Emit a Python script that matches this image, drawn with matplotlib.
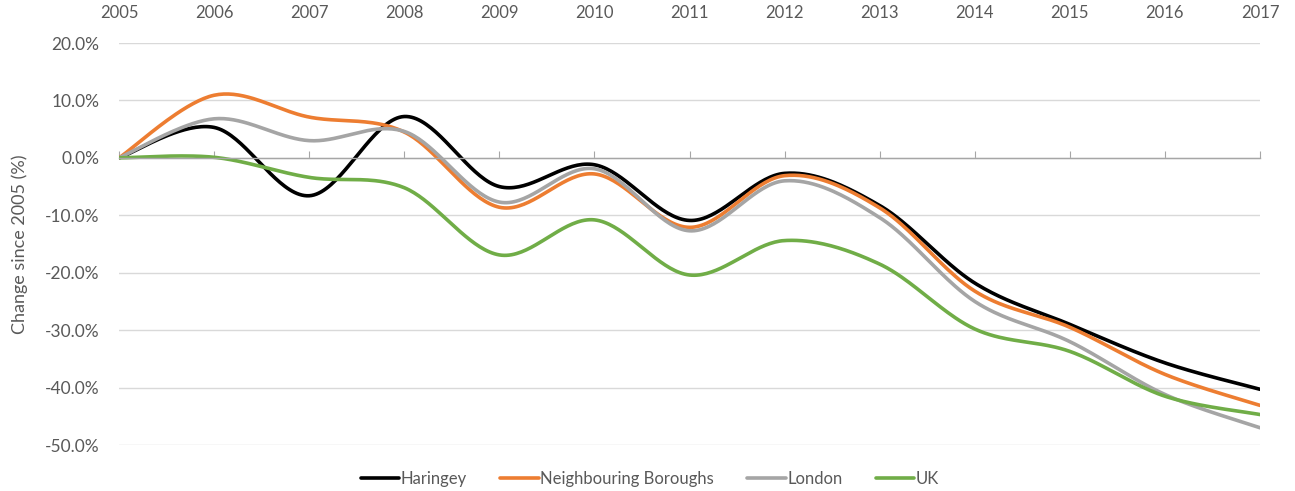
import matplotlib
matplotlib.use("Agg")
import matplotlib.pyplot as plt
from matplotlib.ticker import FuncFormatter
import numpy as np

years = [2005, 2006, 2007, 2008, 2009, 2010, 2011, 2012, 2013, 2014, 2015, 2016, 2017]

# change since 2005, in %
haringey = [0.0, 5.3, -6.6, 7.2, -5.0, -1.2, -10.9, -2.7, -8.3, -21.8, -29.0, -35.7, -40.3]
neighbouring = [0.0, 10.9, 7.1, 4.5, -8.6, -2.8, -12.1, -3.1, -8.7, -23.2, -29.5, -37.7, -43.1]
london = [0.0, 6.8, 3.0, 4.6, -7.7, -1.9, -12.7, -4.0, -10.4, -25.0, -32.0, -41.2, -47.0]
uk = [0.0, 0.1, -3.4, -5.2, -16.9, -10.8, -20.4, -14.4, -18.5, -29.8, -33.7, -41.5, -44.7]

series_names = ["Haringey", "Neighbouring Boroughs", "London", "UK"]
series_colors = ["#000000", "#ED7D31", "#A5A5A5", "#70AD47"]

plt.rcParams["font.family"] = ["Lato", "DejaVu Sans"]
text_col = "#595959"


def smooth(xs, ys, n=40):
    # Excel-style smoothed line: cubic bezier through points (Catmull-Rom tangents)
    xs = np.asarray(xs, dtype=float)
    ys = np.asarray(ys, dtype=float)
    px = np.concatenate([[xs[0]], xs, [xs[-1]]])
    py = np.concatenate([[ys[0]], ys, [ys[-1]]])
    out_x, out_y = [], []
    t = np.linspace(0, 1, n)
    for i in range(1, len(px) - 2):
        p0 = np.array([px[i], py[i]])
        p3 = np.array([px[i + 1], py[i + 1]])
        c1 = p0 + (np.array([px[i + 1], py[i + 1]]) - np.array([px[i - 1], py[i - 1]])) / 6
        c2 = p3 - (np.array([px[i + 2], py[i + 2]]) - np.array([px[i], py[i]])) / 6
        b = ((1 - t) ** 3)[:, None] * p0 + (3 * (1 - t) ** 2 * t)[:, None] * c1 \
            + (3 * (1 - t) * t ** 2)[:, None] * c2 + (t ** 3)[:, None] * p3
        out_x.extend(b[:, 0])
        out_y.extend(b[:, 1])
    return out_x, out_y


fig = plt.figure(figsize=(12.95, 4.91), dpi=100)
ax = fig.add_axes([119 / 1295, 1 - 445 / 491, (1260 - 119) / 1295, (445 - 43) / 491])

for name, vals, col in zip(series_names, [haringey, neighbouring, london, uk], series_colors):
    sx, sy = smooth(years, vals)
    ax.plot(sx, sy, color=col, lw=2.6, label=name, solid_capstyle="round")

ax.set_xlim(years[0], years[-1])
ax.set_ylim(-50, 20)
ax.set_yticks(np.arange(-50, 21, 10))
ax.yaxis.set_major_formatter(FuncFormatter(lambda v, p: f"{v:.1f}%"))
ax.set_xticks(years)
ax.grid(axis="y", color="#D9D9D9", lw=1)
ax.set_axisbelow(True)

for s in ["left", "right", "top"]:
    ax.spines[s].set_visible(False)
ax.spines["bottom"].set_position(("data", 0))
ax.spines["bottom"].set_color("#A6A6A6")
ax.spines["bottom"].set_linewidth(1)

ax.tick_params(axis="x", bottom=True, top=False, labelbottom=False, labeltop=True,
               direction="in", length=5, color="#A6A6A6", labelsize=12,
               labelcolor=text_col, pad=16)
ax.tick_params(axis="y", length=0, labelsize=12.5, labelcolor=text_col, pad=14)
for lab in ax.get_xticklabels():
    lab.set_verticalalignment("bottom")

ax.set_ylabel("Change since 2005 (%)", fontsize=13, color=text_col)
ax.yaxis.set_label_coords(-0.08, 0.5)

fig.legend(loc="center", bbox_to_anchor=(650 / 1295, 1 - 479 / 491), ncol=4, frameon=False,
           fontsize=12, labelcolor=text_col, handlelength=2.3, handletextpad=0.1,
           columnspacing=2.0)

fig.savefig("out.png", dpi=100)
